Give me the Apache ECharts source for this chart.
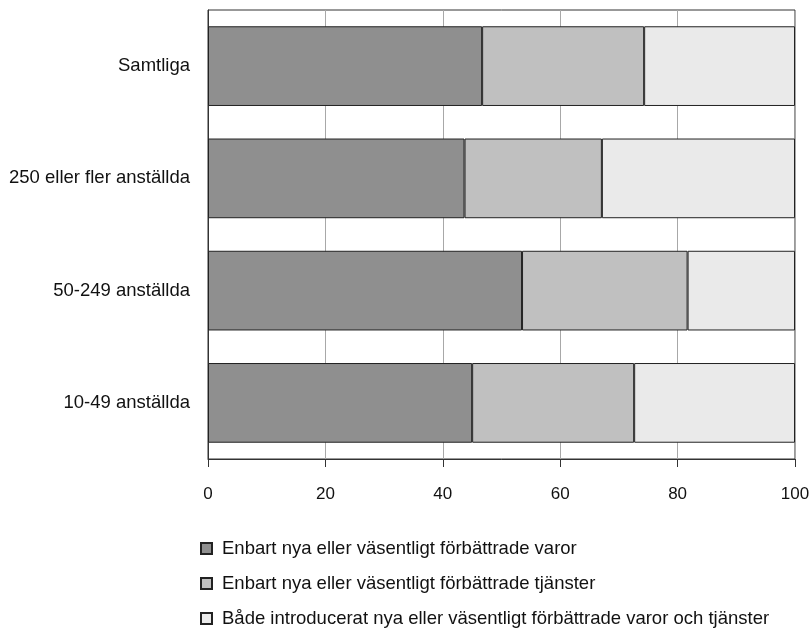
<!DOCTYPE html>
<html>
<head>
<meta charset="utf-8">
<script src="https://cdn.jsdelivr.net/npm/echarts@6/dist/echarts.min.js"></script>
<style>
html,body{margin:0;padding:0;background:#fff;}
#chart{width:811px;height:638px;}
</style>
</head>
<body>
<div id="chart"></div>
<script>
var categories = ['Samtliga', '250 eller fler anställda', '50-249 anställda', '10-49 anställda'];
var seriesNames = [
  'Enbart nya eller väsentligt förbättrade varor',
  'Enbart nya eller väsentligt förbättrade tjänster',
  'Både introducerat nya eller väsentligt förbättrade varor och tjänster'
];
var varor = [46.7, 43.7, 53.5, 45.0];
var tjanster = [27.6, 23.4, 28.2, 27.6];
var bada = [25.7, 32.9, 18.3, 27.4];
var xTicks = [0, 20, 40, 60, 80, 100];

var FONT = '"Liberation Sans", Arial, sans-serif';
var colors = ['#8f8f8f', '#c0c0c0', '#eaeaea'];
var values = [varor, tjanster, bada];

var chart = echarts.init(document.getElementById('chart'), null, {renderer: 'canvas'});
chart.setOption({
  animation: false,
  textStyle: {fontFamily: FONT},
  grid: {left: 208, right: 16, top: 10, bottom: 179, show: true, borderColor: '#333', borderWidth: 1,
         containLabel: false, outerBoundsMode: 'none'},
  legend: {
    orient: 'vertical',
    left: 200,
    top: 539,
    padding: 0,
    itemWidth: 11,
    itemHeight: 11,
    itemGap: 16,
    icon: 'rect',
    textStyle: {fontFamily: FONT, fontSize: 18.5, color: '#111', padding: [0, 0, 0, 5]},
    data: seriesNames
  },
  xAxis: {
    type: 'value',
    min: xTicks[0],
    max: xTicks[xTicks.length - 1],
    interval: 20,
    axisLine: {show: true, lineStyle: {color: '#333', width: 1}},
    axisTick: {show: true, length: 8, lineStyle: {color: '#333'}},
    axisLabel: {margin: 27, fontFamily: FONT, fontSize: 17, color: '#111'},
    splitLine: {show: true, lineStyle: {color: '#a8a8a8', width: 1}}
  },
  yAxis: {
    type: 'category',
    inverse: true,
    data: categories,
    axisLine: {show: true, lineStyle: {color: '#333', width: 1}},
    axisTick: {show: false},
    axisLabel: {margin: 18, fontFamily: FONT, fontSize: 18.5, color: '#111'},
    splitLine: {show: false}
  },
  series: seriesNames.map(function (name, i) {
    return {
      name: name,
      type: 'bar',
      stack: 'total',
      barCategoryGap: '29%',
      data: values[i],
      itemStyle: {color: colors[i], borderColor: '#222', borderWidth: 1}
    };
  })
});
</script>
</body>
</html>
